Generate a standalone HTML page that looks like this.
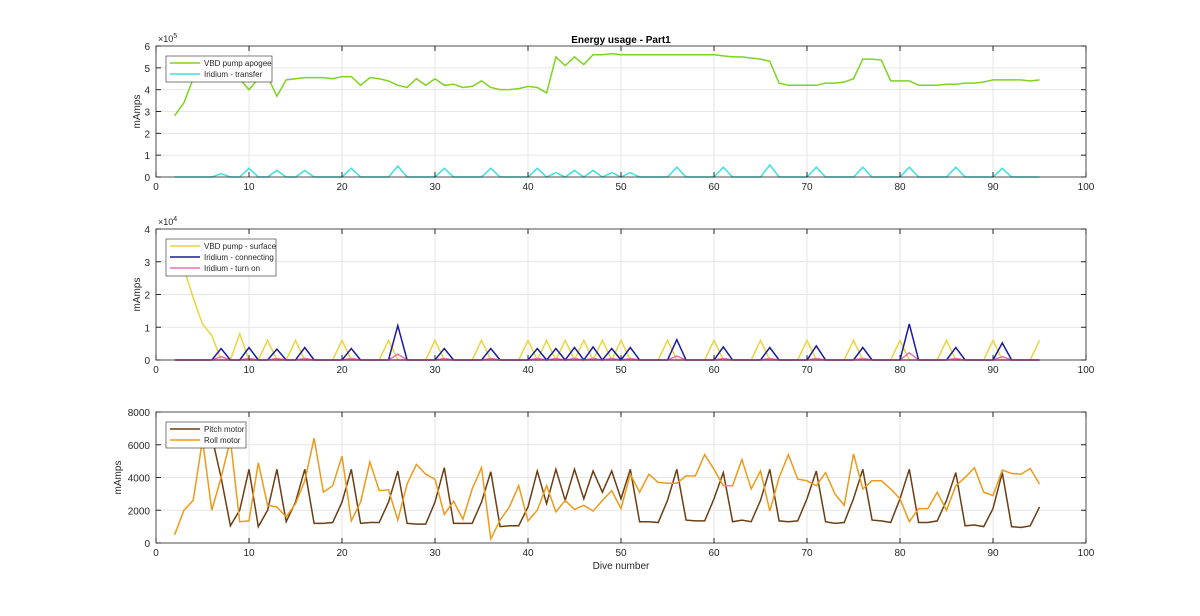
<!DOCTYPE html>
<html><head><meta charset="utf-8"><style>
body{margin:0;background:#fff;}
svg text{font-family:"Liberation Sans",Arial,sans-serif;}
</style></head><body>
<svg id="fig" width="1200" height="611" viewBox="0 0 1200 611" xmlns="http://www.w3.org/2000/svg"></svg>
<script>
const xs = [];
for (let i = 2; i <= 95; i++) xs.push(i);
const pitchXs = [];
for (let i = 5; i <= 95; i++) pitchXs.push(i);
const vbdApogee = [2.8,3.4,4.5,5.0,4.6,4.5,4.5,4.5,4.0,4.5,4.6,3.7,4.45,4.5,4.55,4.55,4.55,4.5,4.6,4.6,4.2,4.55,4.5,4.4,4.2,4.1,4.5,4.2,4.5,4.2,4.25,4.1,4.15,4.4,4.1,4.0,4.0,4.05,4.15,4.1,3.85,5.5,5.1,5.5,5.15,5.6,5.6,5.65,5.6,5.6,5.6,5.6,5.6,5.6,5.6,5.6,5.6,5.6,5.6,5.55,5.5,5.5,5.45,5.4,5.3,4.3,4.2,4.2,4.2,4.2,4.3,4.3,4.35,4.5,5.4,5.4,5.35,4.4,4.4,4.4,4.2,4.2,4.2,4.25,4.25,4.3,4.3,4.35,4.45,4.45,4.45,4.45,4.4,4.45];
const transferPeakX = [7,10,13,16,21,26,31,36,41,43,45,47,49,51,56,61,66,71,76,81,86,91];
const transferPeakV = [0.15,0.4,0.3,0.3,0.4,0.5,0.4,0.4,0.4,0.2,0.3,0.3,0.2,0.2,0.45,0.45,0.55,0.45,0.45,0.45,0.45,0.4];
const surfaceHead = [3.3,2.8,1.9,1.1,0.75,0];
const surfacePeakX = [9,12,15,20,25,30,35,40,42,44,46,48,50,55,60,65,70,75,80,85,90,95];
const surfacePeakV = [0.8,0.6,0.6,0.6,0.6,0.6,0.6,0.6,0.6,0.6,0.6,0.6,0.6,0.6,0.6,0.6,0.6,0.6,0.6,0.6,0.6,0.6];
const connectPeakX = [7,10,13,16,21,26,31,36,41,43,45,47,49,51,56,61,66,71,76,81,86,91];
const connectPeakV = [0.35,0.38,0.33,0.38,0.35,1.05,0.35,0.35,0.35,0.35,0.38,0.4,0.35,0.38,0.62,0.4,0.38,0.43,0.38,1.1,0.38,0.52];
const turnOnPeakV = [0.1,0.05,0.05,0.05,0.05,0.18,0.05,0.05,0.05,0.05,0.05,0.05,0.05,0.05,0.12,0.05,0.05,0.05,0.05,0.22,0.05,0.1];
const pitch = [6800,6500,4000,1050,2000,4500,1000,2000,4500,1300,2500,4500,1200,1200,1250,2500,4500,1200,1250,1250,2500,4400,1200,1150,1150,2500,4600,1200,1200,1200,2500,4350,1000,1050,1050,2200,4400,2400,4500,2600,4500,2700,4400,3100,4400,2700,4500,1300,1300,1250,2600,4500,1400,1350,1350,2700,4300,1300,1400,1300,2600,4500,1350,1300,1350,2700,4400,1300,1200,1250,2700,4500,1400,1350,1250,2700,4500,1250,1250,1350,2600,4300,1050,1100,1000,2100,4300,1000,950,1050,2200];
const roll = [500,2000,2600,6300,2000,4000,6300,1300,1350,4900,2300,2200,1600,2400,3800,6400,3100,3500,5300,1350,2500,4950,3200,3250,1400,3600,4800,4200,3900,1750,2550,1450,3300,4600,250,1400,2200,3500,1350,2000,3500,1900,2600,2050,2300,1950,2600,3200,2100,4200,3100,4200,3700,3650,3650,4100,4100,5400,4500,3500,3500,5100,3300,4400,1950,4000,5400,3900,3800,3500,4300,3000,2300,5450,3300,3800,3800,3300,2700,1300,2100,2100,3100,2000,3500,4000,4600,3100,2900,4450,4250,4200,4550,3600];
const xTicks = [0,10,20,30,40,50,60,70,80,90,100];

const NS = "http://www.w3.org/2000/svg";
const svg = document.getElementById('fig');
const X0 = 156, X1 = 1086;
const sx = v => X0 + (v/100)*(X1-X0);
function mk(tag, attrs, parent){const e=document.createElementNS(NS,tag);for(const k in attrs)e.setAttribute(k,attrs[k]);(parent||svg).appendChild(e);return e;}
function peaksSeries(px, pv, head){
  const m = {};
  xs.forEach(x=>m[x]=0);
  if(head) head.forEach((v,i)=>m[xs[i]]=v);
  px.forEach((x,i)=>m[x]=pv[i]);
  return xs.map(x=>m[x]);
}
function panel(name, top, bottom, ymax, yTicks, yLabels, expo, series, legend, legendW, titleX){
  const sy = v => bottom - (v/ymax)*(bottom-top);
  const g = mk('g',{});  
  mk('rect',{x:X0,y:top,width:X1-X0,height:bottom-top,fill:'#fff'},g);
  xTicks.forEach(t=>{const l=mk('line',{x1:sx(t),x2:sx(t),y1:top,y2:bottom,stroke:'#e6e6e6','stroke-width':1},g);});
  yTicks.forEach(t=>{const l=mk('line',{x1:X0,x2:X1,y1:sy(t),y2:sy(t),stroke:'#e6e6e6','stroke-width':1},g);});
  series.forEach(s=>{
    const px = s.x || xs;
    const p = mk('polyline',{points:px.map((x,i)=>sx(x)+','+sy(s.v[i])).join(' '),fill:'none',stroke:s.c,'stroke-width':1.5},g);
    
    
  });
  mk('rect',{x:X0,y:top,width:X1-X0,height:bottom-top,fill:'none',stroke:'#262626','stroke-width':0.8},g);
  xTicks.forEach(t=>{
    mk('line',{x1:sx(t),x2:sx(t),y1:bottom,y2:bottom-5,stroke:'#262626'},g);
    mk('line',{x1:sx(t),x2:sx(t),y1:top,y2:top+5,stroke:'#262626'},g);
    const tx=mk('text',{x:sx(t),y:bottom+13,'font-size':10,'text-anchor':'middle',fill:'#262626'},g);tx.textContent=t;
    
  });
  yTicks.forEach((t,i)=>{
    mk('line',{x1:X0,x2:X0+5,y1:sy(t),y2:sy(t),stroke:'#262626'},g);
    mk('line',{x1:X1,x2:X1-5,y1:sy(t),y2:sy(t),stroke:'#262626'},g);
    const tx=mk('text',{x:X0-6,y:sy(t)+4,'font-size':10,'text-anchor':'end',fill:'#262626'},g);tx.textContent=yLabels[i];
    
  });
  if(expo){const e=mk('text',{x:X0+2,y:top-4,'font-size':9,fill:'#262626'},g);e.innerHTML='×10<tspan dy="-4" font-size="7">'+expo+'</tspan>';}
  const yl=mk('text',{x:0,y:0,'font-size':10,'text-anchor':'middle',fill:'#262626',transform:`translate(${titleX},${(top+bottom)/2}) rotate(-90)`},g);yl.textContent='mAmps';
  
  const lg = mk('g',{},g);  
  mk('rect',{x:166,y:top+10,width:legendW,height:legend.length*11+4,fill:'#fff',stroke:'#262626','stroke-width':0.6},lg);
  legend.forEach((s,i)=>{
    const yy=top+17+i*11;
    mk('line',{x1:170,x2:200,y1:yy,y2:yy,stroke:s.c,'stroke-width':1.5},lg);
    const tx=mk('text',{x:204,y:yy+3,'font-size':8,fill:'#262626'},lg);tx.textContent=s.label;
    
  });
}
const transfer = peaksSeries(transferPeakX, transferPeakV);
const surface = peaksSeries(surfacePeakX, surfacePeakV, surfaceHead);
const connect = peaksSeries(connectPeakX, connectPeakV);
const turnon = peaksSeries(connectPeakX, turnOnPeakV);
panel('apogee',46,177,6,[0,1,2,3,4,5,6],['0','1','2','3','4','5','6'],'5',
  [{n:'vbd-apogee-line',v:vbdApogee,c:'#7ed321'},{n:'iridium-transfer-line',v:transfer,c:'#3ee0e0'}],
  [{label:'VBD pump apogee',c:'#7ed321'},{label:'Iridium - transfer',c:'#3ee0e0'}],106,140);
panel('surface',229,360,4,[0,1,2,3,4],['0','1','2','3','4'],'4',
  [{n:'vbd-surface-line',v:surface,c:'#ecd43a'},{n:'iridium-turnon-line',v:turnon,c:'#e86fb8'},{n:'iridium-connecting-line',v:connect,c:'#1a1aa0'},{n:'iridium-turnon-baseline',v:turnon.map(()=>0),c:'#e86fb8'}],
  [{label:'VBD pump - surface',c:'#ecd43a'},{label:'Iridium - connecting',c:'#1a1aa0'},{label:'Iridium - turn on',c:'#e86fb8'}],110,140);
panel('motor',412,543,8000,[0,2000,4000,6000,8000],['0','2000','4000','6000','8000'],null,
  [{n:'pitch-motor-line',v:pitch,x:pitchXs,c:'#6b3e14'},{n:'roll-motor-line',v:roll,c:'#ee9a1a'}],
  [{label:'Pitch motor',c:'#6b3e14'},{label:'Roll motor',c:'#ee9a1a'}],80,121);
const t=mk('text',{x:621,y:43,'font-size':10,'font-weight':'bold','text-anchor':'middle',fill:'#000'});t.textContent='Energy usage - Part1';

const xt=mk('text',{x:621,y:569,'font-size':10,'text-anchor':'middle',fill:'#262626'});xt.textContent='Dive number';

</script>
</body></html>
